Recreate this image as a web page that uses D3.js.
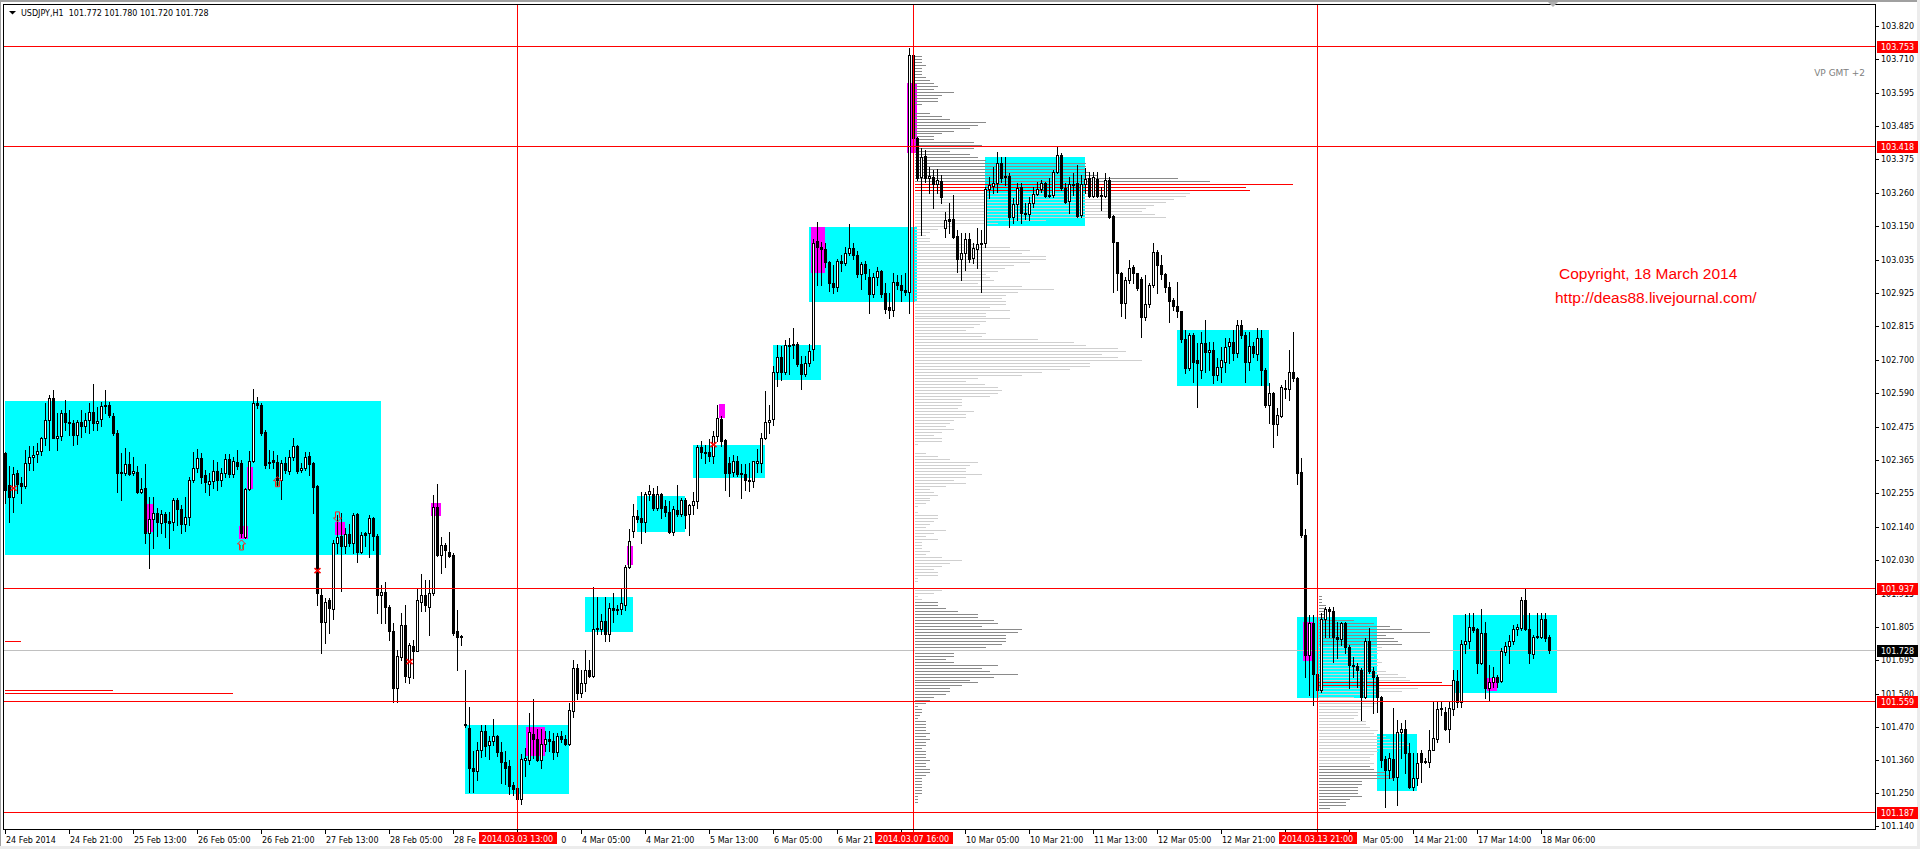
<!DOCTYPE html>
<html><head><meta charset="utf-8">
<script src="https://cdn.jsdelivr.net/npm/d3@7"></script>
<style>html,body{margin:0;padding:0;background:#fff;overflow:hidden}svg{display:block}</style>
</head><body>
<svg id="c" width="1920" height="849"></svg>
<script>
// ---------- DATA ----------
const symbolTitle = "USDJPY,H1  101.772 101.780 101.720 101.728";
// hourly bars [open, high, low, close]; index 0 = 24 Feb 2014 05:00
const bars = [
[102.388,102.394,102.221,102.265],[102.282,102.344,102.159,102.241],[102.241,102.341,102.193,102.318],[102.321,102.332,102.254,102.285],
[102.288,102.310,102.221,102.277],[102.277,102.399,102.271,102.355],[102.355,102.411,102.332,102.375],[102.375,102.411,102.332,102.383],
[102.386,102.422,102.360,102.396],[102.396,102.444,102.383,102.439],[102.439,102.556,102.416,102.500],[102.500,102.584,102.399,102.573],
[102.573,102.600,102.439,102.439],[102.439,102.522,102.399,102.446],[102.446,102.533,102.433,102.522],[102.522,102.567,102.466,102.494],
[102.494,102.533,102.450,102.491],[102.491,102.500,102.416,102.450],[102.450,102.500,102.420,102.494],[102.494,102.533,102.444,102.478],
[102.478,102.522,102.461,102.500],[102.500,102.556,102.455,102.528],[102.528,102.621,102.466,102.489],[102.489,102.545,102.466,102.498],
[102.502,102.561,102.478,102.547],[102.547,102.600,102.522,102.550],[102.550,102.561,102.511,102.517],[102.513,102.522,102.450,102.455],
[102.455,102.466,102.260,102.323],[102.327,102.388,102.232,102.321],[102.321,102.405,102.316,102.351],[102.351,102.391,102.316,102.318],
[102.321,102.377,102.316,102.328],[102.327,102.346,102.254,102.260],[102.259,102.305,102.254,102.268],[102.271,102.353,102.089,102.120],
[102.120,102.241,102.003,102.167],[102.167,102.241,102.070,102.189],[102.189,102.204,102.111,102.159],[102.154,102.198,102.120,102.184],
[102.184,102.193,102.109,102.159],[102.160,102.193,102.070,102.156],[102.159,102.237,102.131,102.230],[102.230,102.237,102.148,102.201],
[102.201,102.215,102.122,102.150],[102.150,102.243,102.129,102.176],[102.176,102.308,102.148,102.299],[102.299,102.394,102.293,102.340],
[102.340,102.402,102.327,102.371],[102.371,102.388,102.288,102.310],[102.316,102.332,102.260,102.293],[102.285,102.321,102.249,102.296],
[102.296,102.366,102.271,102.329],[102.329,102.360,102.265,102.299],[102.299,102.338,102.277,102.321],[102.321,102.386,102.310,102.368],
[102.370,102.386,102.310,102.319],[102.319,102.375,102.310,102.364],[102.360,102.399,102.335,102.346],[102.355,102.366,102.109,102.120],
[102.109,102.271,102.103,102.268],[102.268,102.397,102.265,102.363],[102.363,102.603,102.360,102.558],[102.556,102.578,102.539,102.550],
[102.550,102.556,102.450,102.455],[102.461,102.466,102.338,102.349],[102.355,102.399,102.338,102.360],[102.366,102.397,102.338,102.360],
[102.360,102.383,102.277,102.299],[102.299,102.366,102.234,102.357],[102.355,102.377,102.321,102.332],[102.330,102.399,102.319,102.377],
[102.377,102.439,102.366,102.411],[102.413,102.416,102.321,102.330],[102.332,102.355,102.327,102.339],[102.339,102.394,102.332,102.377],
[102.379,102.394,102.316,102.353],[102.355,102.360,102.189,102.274],[102.277,102.282,101.880,101.919],[101.913,101.936,101.720,101.824],
[101.824,101.902,101.752,101.891],[101.897,101.902,101.785,101.869],[101.866,102.098,101.832,102.087],[102.087,102.182,102.053,102.109],
[102.111,102.187,101.925,102.076],[102.076,102.137,102.053,102.117],[102.117,102.150,102.076,102.087],[102.089,102.189,102.053,102.182],
[102.184,102.189,102.025,102.059],[102.059,102.126,102.053,102.115],[102.120,102.126,102.076,102.115],[102.120,102.182,102.042,102.170],
[102.170,102.176,102.064,102.111],[102.111,102.118,101.852,101.913],[101.913,101.947,101.819,101.924],[101.924,101.958,101.819,101.874],
[101.872,101.880,101.763,101.791],[101.791,101.819,101.556,101.601],[101.601,101.729,101.556,101.709],[101.707,101.852,101.696,101.813],
[101.813,101.880,101.623,101.642],[101.640,101.752,101.617,101.746],[101.743,101.763,101.634,101.727],[101.727,101.933,101.727,101.895],
[101.891,101.983,101.858,101.913],[101.913,101.964,101.858,101.880],[101.874,101.964,101.779,101.919],[101.919,102.249,101.913,102.207],
[102.207,102.284,102.044,102.048],[102.048,102.109,101.986,102.081],[102.081,102.087,102.008,102.064],[102.059,102.126,102.042,102.045],
[102.048,102.053,101.779,101.787],[101.793,101.863,101.662,101.774],[101.776,101.779,101.746,101.771],[101.478,101.663,101.472,101.482],
[101.468,101.538,101.253,101.333],[101.333,101.392,101.253,101.322],[101.322,101.419,101.293,101.395],[101.395,101.478,101.370,101.458],
[101.458,101.478,101.372,101.408],[101.412,101.441,101.362,101.425],[101.425,101.498,101.412,101.442],[101.442,101.445,101.372,101.386],
[101.386,101.419,101.282,101.353],[101.353,101.392,101.280,101.333],[101.339,101.359,101.247,101.273],[101.277,101.286,101.243,101.264],
[101.267,101.273,101.190,101.230],[101.230,101.379,101.214,101.363],[101.359,101.399,101.306,101.366],[101.359,101.518,101.346,101.454],
[101.449,101.564,101.366,101.432],[101.432,101.465,101.357,101.359],[101.359,101.465,101.333,101.415],[101.415,101.458,101.392,101.429],
[101.429,101.458,101.392,101.425],[101.423,101.452,101.362,101.388],[101.388,101.452,101.372,101.441],[101.441,101.458,101.419,101.432],
[101.432,101.445,101.412,101.415],[101.415,101.551,101.412,101.527],[101.524,101.696,101.505,101.667],[101.667,101.683,101.564,101.584],
[101.584,101.663,101.571,101.617],[101.617,101.729,101.591,101.663],[101.663,101.696,101.637,101.643],[101.643,101.941,101.637,101.798],
[101.798,101.908,101.782,101.802],[101.798,101.848,101.782,101.825],[101.825,101.908,101.758,101.782],[101.782,101.888,101.758,101.871],
[101.871,101.921,101.822,101.862],[101.862,101.881,101.848,101.868],[101.868,101.934,101.848,101.886],[101.881,102.014,101.862,102.007],
[102.007,102.133,102.004,102.093],[102.129,102.219,102.106,102.179],[102.179,102.199,102.159,102.168],[102.172,102.258,102.089,102.159],
[102.159,102.258,102.126,102.252],[102.252,102.282,102.232,102.261],[102.252,102.272,102.199,102.205],[102.205,102.278,102.199,102.252],
[102.252,102.255,102.172,102.205],[102.212,102.232,102.179,102.190],[102.192,102.229,102.120,102.126],[102.126,102.212,102.113,102.203],
[102.199,102.282,102.179,102.186],[102.186,102.238,102.179,102.232],[102.232,102.238,102.139,102.183],[102.186,102.219,102.115,102.216],
[102.216,102.258,102.186,102.229],[102.229,102.417,102.205,102.410],[102.410,102.430,102.371,102.391],[102.391,102.417,102.357,102.388],
[102.391,102.437,102.364,102.380],[102.380,102.463,102.357,102.446],[102.446,102.549,102.430,102.506],[102.503,102.512,102.414,102.430],
[102.433,102.437,102.265,102.322],[102.357,102.377,102.245,102.322],[102.324,102.384,102.311,102.361],[102.361,102.380,102.311,102.320],
[102.322,102.351,102.238,102.318],[102.318,102.351,102.265,102.298],[102.298,102.357,102.261,102.295],[102.294,102.364,102.274,102.361],
[102.357,102.404,102.324,102.361],[102.357,102.457,102.324,102.440],[102.440,102.598,102.437,102.494],[102.494,102.549,102.457,102.500],
[102.503,102.681,102.483,102.662],[102.662,102.750,102.615,102.711],[102.711,102.748,102.635,102.662],[102.662,102.767,102.655,102.750],
[102.748,102.774,102.655,102.750],[102.750,102.807,102.708,102.754],[102.754,102.761,102.681,102.688],[102.688,102.715,102.602,102.655],
[102.655,102.715,102.648,102.692],[102.692,102.754,102.681,102.732],[102.737,103.105,102.701,103.094],[103.101,103.162,102.953,103.078],
[103.078,103.098,102.953,103.074],[103.072,103.092,103.012,103.028],[103.028,103.032,102.933,102.959],[102.959,103.019,102.926,102.946],
[102.946,103.039,102.933,103.032],[103.032,103.052,102.999,103.025],[103.025,103.078,103.019,103.058],[103.058,103.158,103.052,103.076],
[103.076,103.092,103.039,103.054],[103.054,103.065,102.979,102.988],[102.988,103.028,102.939,103.023],[103.023,103.032,102.972,102.992],
[102.978,103.006,102.860,102.922],[102.922,102.992,102.913,102.978],[102.978,103.012,102.953,102.999],[102.999,103.002,102.913,102.922],
[102.926,102.959,102.860,102.873],[102.877,102.926,102.840,102.869],[102.869,102.992,102.847,102.962],[102.962,102.986,102.939,102.953],
[102.953,102.986,102.900,102.935],[102.935,102.992,102.920,102.930],[102.930,103.745,102.857,103.723],[103.723,103.753,103.430,103.444],
[103.444,103.449,103.304,103.310],[103.315,103.410,103.120,103.382],[103.384,103.405,103.298,103.310],[103.310,103.349,103.259,103.317],
[103.315,103.338,103.209,103.291],[103.291,103.340,103.259,103.304],[103.302,103.321,103.226,103.248],[103.142,103.198,103.114,103.170],
[103.172,103.226,103.125,103.168],[103.172,103.254,103.109,103.114],[103.116,103.136,102.997,103.041],[103.041,103.125,102.969,103.058],
[103.058,103.125,103.002,103.105],[103.105,103.127,103.030,103.041],[103.044,103.092,103.025,103.075],[103.072,103.142,103.008,103.088],
[103.092,103.136,102.930,103.088],[103.092,103.282,103.081,103.273],[103.273,103.315,103.243,103.287],[103.284,103.349,103.262,103.295],
[103.295,103.399,103.265,103.360],[103.362,103.382,103.298,103.310],[103.317,103.382,103.287,103.313],[103.317,103.326,103.148,103.181],
[103.181,103.243,103.159,103.224],[103.224,103.293,103.170,103.276],[103.282,103.293,103.159,103.192],[103.194,103.226,103.172,103.189],
[103.189,103.248,103.170,103.228],[103.228,103.282,103.215,103.257],[103.257,103.298,103.254,103.273],[103.273,103.304,103.265,103.293],
[103.293,103.298,103.248,103.250],[103.254,103.310,103.248,103.250],[103.254,103.338,103.248,103.332],[103.332,103.416,103.326,103.388],
[103.388,103.394,103.270,103.276],[103.276,103.293,103.226,103.231],[103.235,103.315,103.192,103.291],[103.291,103.326,103.254,103.287],
[103.293,103.354,103.181,103.183],[103.186,103.321,103.181,103.291],[103.291,103.343,103.259,103.306],[103.310,103.332,103.248,103.252],
[103.252,103.332,103.248,103.315],[103.306,103.332,103.248,103.252],[103.254,103.282,103.203,103.252],[103.252,103.329,103.248,103.304],
[103.304,103.315,103.176,103.181],[103.183,103.187,102.930,103.095],[103.095,103.097,102.935,102.991],[102.991,102.997,102.848,102.893],
[102.891,102.980,102.840,102.969],[102.969,103.036,102.958,103.008],[103.011,103.019,102.958,102.991],[102.991,102.991,102.935,102.941],
[102.974,102.980,102.777,102.844],[102.846,102.986,102.835,102.888],[102.888,102.958,102.879,102.952],[102.952,103.092,102.947,103.064],
[103.064,103.069,102.924,103.019],[103.019,103.053,102.974,102.989],[102.988,102.991,102.930,102.944],[102.944,102.963,102.829,102.900],
[102.902,102.907,102.868,102.882],[102.882,102.963,102.846,102.865],[102.865,102.866,102.762,102.770],[102.770,102.801,102.656,102.673],
[102.673,102.790,102.667,102.785],[102.785,102.790,102.628,102.695],[102.701,102.757,102.542,102.690],[102.667,102.796,102.639,102.757],
[102.757,102.835,102.662,102.729],[102.729,102.762,102.667,102.734],[102.734,102.762,102.623,102.651],[102.651,102.706,102.634,102.679],
[102.679,102.743,102.628,102.701],[102.695,102.773,102.662,102.743],[102.748,102.773,102.690,102.760],[102.760,102.801,102.701,102.723],
[102.723,102.835,102.712,102.818],[102.818,102.835,102.773,102.785],[102.785,102.796,102.628,102.695],[102.695,102.796,102.667,102.748],
[102.748,102.762,102.712,102.723],[102.721,102.807,102.701,102.773],[102.773,102.801,102.617,102.667],[102.667,102.673,102.544,102.550],
[102.550,102.623,102.489,102.589],[102.589,102.595,102.410,102.486],[102.486,102.539,102.449,102.516],[102.514,102.617,102.511,102.609],
[102.602,102.634,102.572,102.606],[102.602,102.734,102.567,102.660],[102.660,102.796,102.632,102.639],[102.639,102.645,102.285,102.323],
[102.327,102.371,102.109,102.114],[102.114,102.133,101.640,101.712],[101.712,101.846,101.578,101.821],[101.821,101.846,101.545,101.649],
[101.649,101.656,101.567,101.595],[101.595,101.852,101.589,101.832],[101.832,101.872,101.774,101.865],[101.865,101.872,101.774,101.858],
[101.858,101.872,101.690,101.771],[101.771,101.824,101.701,101.765],[101.765,101.824,101.746,101.818],[101.818,101.824,101.718,101.738],
[101.738,101.746,101.601,101.679],[101.679,101.707,101.640,101.675],[101.675,101.684,101.606,101.662],[101.662,101.668,101.494,101.573],
[101.570,101.768,101.567,101.760],[101.760,101.802,101.651,101.660],[101.660,101.673,101.517,101.640],[101.640,101.645,101.522,101.573],
[101.570,101.575,101.338,101.360],[101.363,101.372,101.204,101.327],[101.327,101.383,101.299,101.366],[101.363,101.534,101.293,101.302],
[101.304,101.494,101.210,101.455],[101.453,101.483,101.366,101.463],[101.463,101.494,101.316,101.383],[101.383,101.416,101.265,101.271],
[101.269,101.383,101.260,101.299],[101.299,101.383,101.277,101.349],[101.385,101.394,101.288,101.355],[101.358,101.366,101.349,101.355],
[101.355,101.461,101.338,101.394],[101.394,101.556,101.394,101.433],[101.430,101.556,101.422,101.530],[101.530,101.556,101.511,101.534],
[101.522,101.539,101.461,101.463],[101.463,101.556,101.422,101.534],[101.530,101.662,101.511,101.628],[101.626,101.662,101.539,101.556],
[101.556,101.762,101.539,101.749],[101.749,101.850,101.718,101.760],[101.760,101.852,101.735,101.805],[101.805,101.852,101.790,101.796],
[101.798,101.802,101.651,101.687],[101.687,101.865,101.682,101.785],[101.785,101.824,101.567,101.601],[101.601,101.679,101.561,101.623],
[101.623,101.673,101.606,101.640],[101.640,101.645,101.606,101.623],[101.626,101.735,101.623,101.727],[101.723,101.757,101.712,101.742],
[101.742,101.779,101.687,101.760],[101.760,101.813,101.749,101.798],[101.798,101.816,101.779,101.805],[101.802,101.908,101.796,101.897],
[101.897,101.936,101.796,101.798],[101.798,101.852,101.687,101.718],[101.716,101.779,101.701,101.771],[101.771,101.852,101.768,101.776],
[101.774,101.852,101.768,101.832],[101.832,101.852,101.760,101.768],[101.772,101.780,101.720,101.728]
];
const priceTicks = [103.820,103.710,103.595,103.485,103.375,103.260,103.150,103.035,102.925,102.815,102.700,102.590,102.475,
  102.365,102.255,102.140,102.030,101.915,101.805,101.695,101.580,101.470,101.360,101.250,101.140];
const timeTicks = [[0,"24 Feb 2014"],[16,"24 Feb 21:00"],[32,"25 Feb 13:00"],[48,"26 Feb 05:00"],[64,"26 Feb 21:00"],
  [80,"27 Feb 13:00"],[96,"28 Feb 05:00"],[112,"28 Feb 21:00"],[128,"3 Mar 13:00"],[144,"4 Mar 05:00"],[160,"4 Mar 21:00"],
  [176,"5 Mar 13:00"],[192,"6 Mar 05:00"],[208,"6 Mar 21:00"],[224,"7 Mar 13:00"],[240,"10 Mar 05:00"],[256,"10 Mar 21:00"],
  [272,"11 Mar 13:00"],[288,"12 Mar 05:00"],[304,"12 Mar 21:00"],[320,"13 Mar 13:00"],[336,"14 Mar 05:00"],[352,"14 Mar 21:00"],
  [368,"17 Mar 14:00"],[384,"18 Mar 06:00"]];
const timeLines = [[128,"2014.03.03 13:00"],[227,"2014.03.07 16:00"],[328,"2014.03.13 21:00"]];
const levels = [103.753,103.418,101.937,101.559,101.187];
const bidPrice = 101.728;
// [firstBar, endBar, topPrice, bottomPrice]
const cyanBoxes = [[0,94,102.563,102.048],[115,141,101.478,101.247],[145,157,101.905,101.789],[158,170,102.246,102.126],
  [172,190,102.417,102.307],[192,204,102.752,102.635],[201,228,103.147,102.896],[245,270,103.381,103.151],
  [293,316,102.801,102.615],[323,343,101.839,101.569],[343,353,101.447,101.257],[362,388,101.846,101.586]];
const magentaBoxes = [[36,36,102.218,102.125],[59,60,102.144,102.101],[61,61,102.341,102.268],[83,84,102.159,102.114],
  [107,108,102.222,102.179],[131,134,101.472,101.375],[156,156,102.076,102.014],[179,179,102.552,102.506],
  [202,204,103.147,102.992],[226,227,103.630,103.393],[325,326,101.824,101.693],[371,372,101.636,101.592]];
// volume profiles (1 pip rows, from top price downward)
const profile1Start = 227, profile1Top = 103.72, profile1Value = [46,182];
const profile1 = [7,7,7,11,7,7,7,11,15,19, 23,19,39,27,23,23,7,0,0,15, 27,35,71,63,55,39,27,19,19,59,
 67,59,35,55,63,71,171,171,171,175, 183,263,295,378,331,335,275,271,259,251, 239,231,227,240,251,131,83,39,23,15,
 11,15,15,60,95,115,107,131,131,115, 99,90,83,71,75,79,63,107,139,103, 91,87,91,91,75,95,71,71,95,71,
 65,59,51,71,67,123,159,171,203,211, 187,203,227,175,175,155,127,107,63,51, 70,83,87,83,75,47,47,47,43,59,
 51,51,39,35,31,39,27,19,27,27, 3,0,0,11,23,35,63,55,51,51, 67,51,39,51,31,15,19,23,15,15,
 11,3,0,3,23,23,19,15,11,31, 19,11,23,7,7,7,15,11,27,47, 35,27,19,23,23,3,3,0,0,27,
 19,3,7,23,23,31,43,63,63,79, 83,67,107,103,91,91,91,87,71,55, 39,39,31,39,83,67,75,103,79,55,
 63,47,35,35,31,19,15,11,3,7, 7,5,3,11,11,11,11,15,11,15, 11,11,7,11,11,11,15,11,11,15,
 15,11,7,7,7,7,7,7,3,3,3];
const profile2Start = 328, profile2Top = 101.91, profile2Value = [17,56];
const profile2 = [3,3,3,7,7,7,7,7,35,55, 71,83,111,67,75,79,83,63,71,59, 55,59,63,59,55,67,79,87,91,123,
 134,99,83,59,35,55,59,55,43,39, 39,35,47,47,51,59,55,67,71,87, 91,83,59,55,51,51,55,51,55,67,
 71,75,43,43,39,39,39,43,31,27, 27,11];
// older point-of-control lines [price, fromBar, toBar]
const pocLines = [[101.759,-0.2,3.9],[101.595,-0.2,26.8],[101.584,-0.2,56.8]];
const crosses = [[2,102.271],[78,101.995],[101,101.690],[177,102.417]];
const arrowsUp = [[59,102.081],[68,102.293]];
const arrowsDown = [[83,102.175]];
const copyright = ["Copyright, 18 March 2014","http://deas88.livejournal.com/"];
const vpLabel = "VP GMT +2";

// ---------- SCALES ----------
const svg = d3.select('#c');
const PL = 3, PR = 1875, PT = 4, PB = 829;
const x = d3.scaleLinear().domain([0, 386]).range([5.5, 1549.5]);
const y = d3.scaleLinear().domain([101.129, 103.894]).range([829, 4]);
const vol = d3.scaleLinear().domain([0, 100]).range([0, 100]);
const FONT = "'DejaVu Sans', Verdana, sans-serif";
const ry = p => Math.round(y(p));

svg.append('rect').attr('width',1920).attr('height',849).attr('fill','#fff');
svg.append('rect').attr('x',0).attr('y',0).attr('width',1920).attr('height',2).attr('fill','#a0a0a0');
svg.append('rect').attr('x',0).attr('y',0).attr('width',1).attr('height',849).attr('fill','#a0a0a0');
svg.append('rect').attr('x',0).attr('y',846).attr('width',1920).attr('height',3).attr('fill','#ececec');
svg.append('rect').attr('x',1917).attr('y',0).attr('width',3).attr('height',849).attr('fill','#ececec');

const defs = svg.append('defs');
defs.append('clipPath').attr('id','clip').append('rect')
  .attr('x',PL+1).attr('y',PT+1).attr('width',PR-PL-1).attr('height',PB-PT-1);
const plot = svg.append('g').attr('clip-path','url(#clip)').attr('shape-rendering','crispEdges');

// cyan boxes
plot.append('g').selectAll('rect').data(cyanBoxes).join('rect')
  .attr('x', d => Math.round(x(d[0]) - 0.5))
  .attr('width', d => Math.round(x(d[1]) - 0.5) - Math.round(x(d[0]) - 0.5))
  .attr('y', d => ry(d[2])).attr('height', d => ry(d[3]) - ry(d[2]))
  .attr('fill', '#00ffff');
// magenta boxes
plot.append('g').selectAll('rect').data(magentaBoxes).join('rect')
  .attr('x', d => Math.round(x(d[0]) - 3))
  .attr('width', d => Math.round(x(d[1]) + 3) - Math.round(x(d[0]) - 3))
  .attr('y', d => ry(d[2])).attr('height', d => ry(d[3]) - ry(d[2]))
  .attr('fill', '#ff00ff');

// volume profiles
function drawProfile(values, top, startBar, va) {
  const mx = d3.max(values);
  const g = plot.append('g');
  values.forEach((v, i) => {
    if (v <= 0) return;
    const p = top - i * 0.01;
    let col = (i >= va[0] && i <= va[1]) ? '#cfcfcf' : '#8a8a8a';
    if (v >= 0.85 * mx) col = '#ff0000';
    g.append('rect').attr('x', Math.round(x(startBar)) + 1).attr('y', ry(p))
      .attr('width', vol(v)).attr('height', 1).attr('fill', col);
  });
}
drawProfile(profile1, profile1Top, profile1Start, profile1Value);
drawProfile(profile2, profile2Top, profile2Start, profile2Value);

// old POC lines
plot.append('g').selectAll('rect').data(pocLines).join('rect')
  .attr('x', d => Math.round(x(d[1]))).attr('width', d => Math.round(x(d[2]) - x(d[1])))
  .attr('y', d => ry(d[0])).attr('height', 1).attr('fill', '#ff0000');

// bid line
plot.append('rect').attr('x',PL).attr('width',PR-PL).attr('y',ry(bidPrice)).attr('height',1).attr('fill','#c0c0c0');

// candles
const cg = plot.append('g');
bars.forEach((b, i) => {
  const [o, h, l, c] = b;
  const cx = Math.floor(x(i));
  const yh = ry(h), yl = ry(l);
  cg.append('rect').attr('x', cx).attr('y', yh).attr('width', 1).attr('height', Math.max(1, yl - yh + 1)).attr('fill', '#000');
  const t = ry(Math.max(o, c)), bt = ry(Math.min(o, c));
  if (bt - t < 2) {
    cg.append('rect').attr('x', cx - 1).attr('y', t).attr('width', 3).attr('height', Math.max(1, bt - t + 1)).attr('fill', '#000');
  } else if (c >= o) {
    cg.append('rect').attr('x', cx - 1).attr('y', t).attr('width', 3).attr('height', bt - t + 1).attr('fill', '#000');
    cg.append('rect').attr('x', cx).attr('y', t + 1).attr('width', 1).attr('height', bt - t - 1).attr('fill', '#fff');
  } else {
    cg.append('rect').attr('x', cx - 1).attr('y', t).attr('width', 3).attr('height', bt - t + 1).attr('fill', '#000');
  }
});

// markers
const mg = plot.append('g').attr('shape-rendering','auto');
crosses.forEach(d => {
  const cx = x(d[0]), cy = y(d[1]);
  mg.append('path').attr('d', `M${cx-3},${cy-2.5}L${cx+3},${cy+2.5}M${cx-3},${cy+2.5}L${cx+3},${cy-2.5}`)
    .attr('stroke','#ff0000').attr('stroke-width',1.6).attr('fill','none');
});
arrowsUp.forEach(d => {
  const cx = x(d[0]), cy = y(d[1]);
  mg.append('path').attr('d', `M${cx},${cy-5}L${cx+4},${cy-1}L${cx+2},${cy-1}L${cx+2},${cy+5}L${cx-2},${cy+5}L${cx-2},${cy-1}L${cx-4},${cy-1}Z`)
    .attr('stroke','#ff2020').attr('stroke-width',1).attr('fill','none');
  mg.append('path').attr('d', `M${cx-1},${cy+4}L${cx-1},${cy}M${cx+1},${cy+4}L${cx+1},${cy}`).attr('stroke','#30a030').attr('stroke-width',0.8);
});
arrowsDown.forEach(d => {
  const cx = x(d[0]), cy = y(d[1]);
  mg.append('path').attr('d', `M${cx},${cy+5}L${cx+4},${cy+1}L${cx+2},${cy+1}L${cx+2},${cy-5}L${cx-2},${cy-5}L${cx-2},${cy+1}L${cx-4},${cy+1}Z`)
    .attr('stroke','#ff2020').attr('stroke-width',1).attr('fill','none');
});

// red horizontal levels and vertical time lines
plot.append('g').selectAll('rect').data(levels).join('rect')
  .attr('x', PL).attr('width', PR - PL).attr('y', d => ry(d)).attr('height', 1).attr('fill', '#ff0000');
svg.append('g').attr('shape-rendering','crispEdges').selectAll('rect').data(timeLines).join('rect')
  .attr('x', d => Math.floor(x(d[0]))).attr('width', 1).attr('y', PT).attr('height', PB - PT + 4).attr('fill', '#ff0000');

// frame
svg.append('rect').attr('x',PL+0.5).attr('y',PT+0.5).attr('width',PR-PL).attr('height',PB-PT)
  .attr('fill','none').attr('stroke','#000').attr('stroke-width',1).attr('shape-rendering','crispEdges');

// header
svg.append('path').attr('d','M9,11L16,11L12.5,14.5Z').attr('fill','#000');
svg.append('text').attr('x',21).attr('y',16).attr('font-family',FONT).attr('font-size',8)
  .style('white-space','pre').attr('fill','#000').text(symbolTitle);
// shift marker
svg.append('path').attr('d','M1548,2L1558,2L1553,7Z').attr('fill','#b0b0b0');

// texts
svg.append('text').attr('x',1865).attr('y',75.5).attr('text-anchor','end').attr('font-family',FONT).attr('font-size',9)
  .attr('fill','#808080').text(vpLabel);
svg.append('text').attr('x',1559).attr('y',278.5).attr('font-family',"'Liberation Sans', Arial, sans-serif")
  .attr('font-size',15.5).attr('fill','#ff0000').text(copyright[0]);
svg.append('text').attr('x',1555).attr('y',303).attr('font-family',"'Liberation Sans', Arial, sans-serif")
  .attr('font-size',15.5).attr('fill','#ff0000').text(copyright[1]);

// right price axis; tick labels partly hidden by a price tag are clipped to the visible part
const ax = svg.append('g');
const tagPrices = levels.concat([bidPrice]);
priceTicks.forEach((p, idx) => {
  const yy = ry(p);
  ax.append('rect').attr('x', PR + 1).attr('y', yy).attr('width', 3).attr('height', 1).attr('fill', '#000');
  const t = ax.append('text').attr('x', 1881).attr('y', yy + 3).attr('font-family', FONT).attr('font-size', 8)
    .attr('fill', '#000').text(p.toFixed(3));
  const near = tagPrices.find(q => Math.abs(ry(q) - yy) < 12);
  if (near !== undefined) {
    const ty = ry(near);
    const cid = 'pc' + idx;
    const r = defs.append('clipPath').attr('id', cid).append('rect').attr('x', 1878).attr('width', 42);
    if (yy > ty) r.attr('y', ty + 7).attr('height', 20);
    else r.attr('y', ty - 30).attr('height', 25);
    t.attr('clip-path', `url(#${cid})`);
  }
});
function priceTag(p, bg) {
  const yy = ry(p);
  ax.append('rect').attr('x', 1877).attr('y', yy - 5).attr('width', 41).attr('height', 12).attr('fill', bg);
  ax.append('text').attr('x', 1881).attr('y', yy + 4).attr('font-family', FONT).attr('font-size', 8)
    .attr('fill', '#fff').text(p.toFixed(3));
}
levels.forEach(p => priceTag(p, '#ff0000'));
priceTag(bidPrice, '#000');

// bottom time axis (labels covered by the red time tags are cut where the tag hides them)
const tx = svg.append('g');
const tagSpans = timeLines.map(d => { const a = Math.round(x(d[0]) - 39); return [a, a + 78]; });
timeTicks.forEach(d => {
  const xx = Math.floor(x(d[0]));
  tx.append('rect').attr('x', xx).attr('y', PB + 1).attr('width', 1).attr('height', 4).attr('fill', '#000');
  const start = xx + 1;
  const t = tx.append('text').attr('x', start).attr('y', 842.5).attr('font-family', FONT).attr('font-size', 8)
    .attr('fill', '#000').text(d[1]);
  const node = t.node();
  const full = d[1];
  const w = node.getComputedTextLength();
  for (const [a, b] of tagSpans) {
    if (start < b && start + w > a) {
      if (start < a) {
        let n = full.length;
        while (n > 0 && start + node.getSubStringLength(0, n) > a - 1) n--;
        t.text(full.slice(0, n).replace(/\s+$/, ''));
      } else {
        let i = 0;
        while (i < full.length && start + node.getSubStringLength(0, i) < b) i++;
        while (i < full.length && full[i] === ' ') i++;
        if (i >= full.length) { t.remove(); }
        else { const sh = node.getSubStringLength(0, i); t.attr('x', start + sh).text(full.slice(i)); }
      }
      break;
    }
  }
});
timeLines.forEach(d => {
  const xx = x(d[0]);
  tx.append('rect').attr('x', Math.round(xx - 39)).attr('y', 832).attr('width', 78).attr('height', 12).attr('fill', '#ff0000');
  tx.append('text').attr('x', xx).attr('y', 841.5).attr('text-anchor', 'middle').attr('font-family', FONT)
    .attr('font-size', 8).attr('fill', '#fff').text(d[1]);
});
</script>
</body></html>
